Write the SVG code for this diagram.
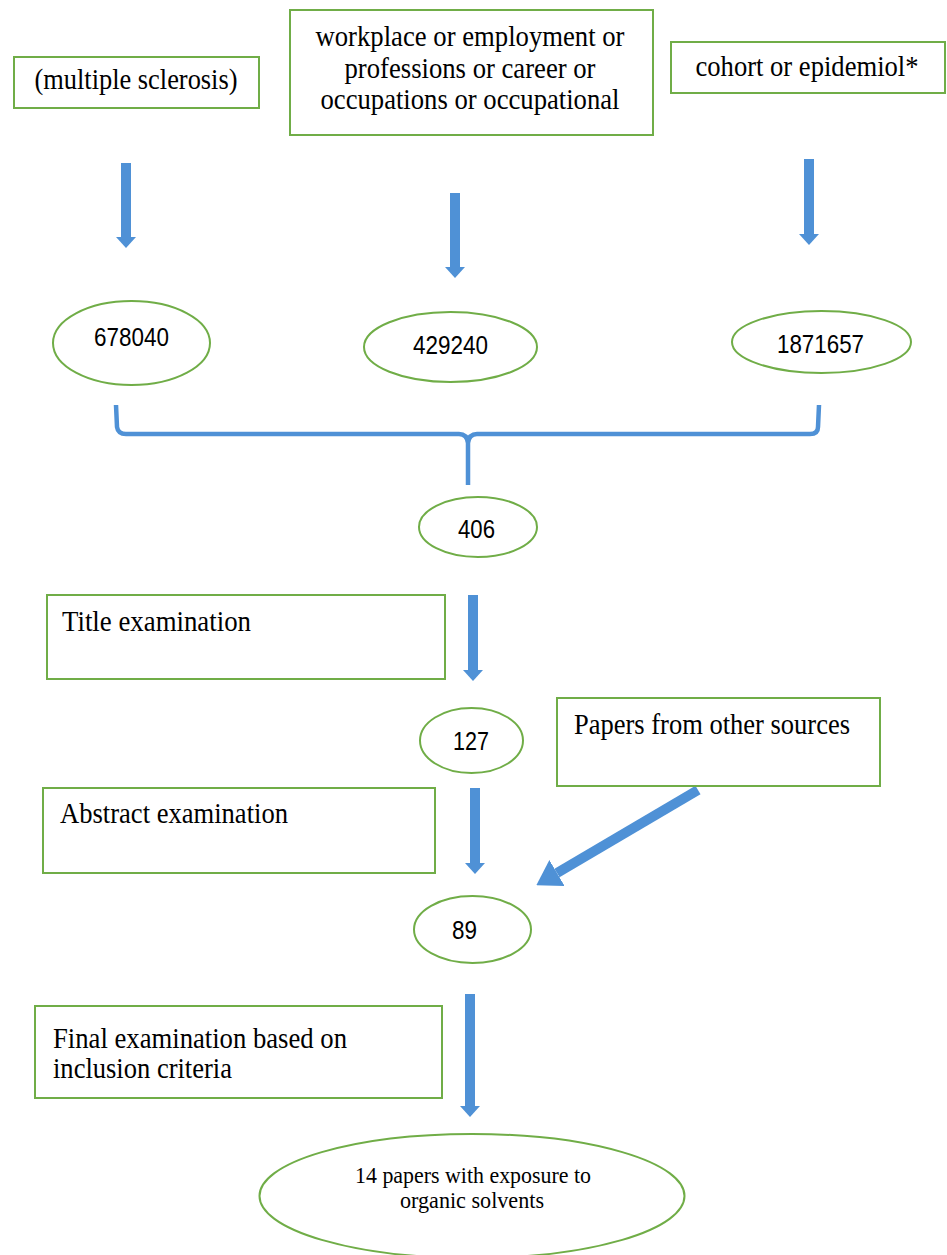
<svg xmlns="http://www.w3.org/2000/svg" width="947" height="1255" viewBox="0 0 947 1255">
<style>
  .box { fill: #ffffff; stroke: #70ad47; stroke-width: 2; }
  .ell { fill: #ffffff; stroke: #70ad47; stroke-width: 2; }
  .lbl { font-family: "Liberation Serif", "Times New Roman", serif; font-size: 29px; fill: #000000; }
  .lbl2 { font-family: "Liberation Serif", "Times New Roman", serif; font-size: 24px; fill: #000000; }
  .num { font-family: "Liberation Sans", Arial, sans-serif; font-size: 25px; fill: #000000; }
  .arr { stroke: #4f91d6; stroke-width: 10; fill: none; }
  .brace { stroke: #4f91d6; stroke-width: 4.5; fill: none; stroke-linejoin: round; }
</style>
<defs>
  <marker id="headDown" viewBox="0 0 11 20" refX="0" refY="10" markerWidth="11" markerHeight="20" orient="auto" markerUnits="userSpaceOnUse">
    <path d="M0,0 L11,10 L0,20 Z" fill="#4f91d6"/>
  </marker>
  <marker id="headDiag" viewBox="0 0 24 30" refX="0" refY="15" markerWidth="24" markerHeight="30" orient="auto" markerUnits="userSpaceOnUse">
    <path d="M0,0 L24,15 L0,30 Z" fill="#4f91d6"/>
  </marker>
</defs>

<g id="connectors">
  <line class="arr" x1="126" y1="163" x2="126" y2="237" marker-end="url(#headDown)"/>
  <line class="arr" x1="455" y1="193" x2="455" y2="267" marker-end="url(#headDown)"/>
  <line class="arr" x1="809" y1="159" x2="809" y2="234" marker-end="url(#headDown)"/>
  <path class="brace" d="M116,405 L117,427 Q118,434 126,434 L459,434 Q467,434 468,443 L468,485 M468,443 Q469,434 477,434 L810,434 Q818,434 818,427 L819,405"/>
  <line class="arr" x1="473" y1="595" x2="473" y2="670" marker-end="url(#headDown)"/>
  <line class="arr" x1="475" y1="788" x2="475" y2="863" marker-end="url(#headDown)"/>
  <line class="arr" x1="698" y1="790" x2="557" y2="873" marker-end="url(#headDiag)"/>
  <line class="arr" x1="470" y1="994" x2="470" y2="1106" marker-end="url(#headDown)"/>
</g>

<g id="node-ms">
  <rect class="box" x="14" y="57" width="245" height="51"/>
  <text class="lbl" x="136" y="89" text-anchor="middle" textLength="203" lengthAdjust="spacingAndGlyphs">(multiple sclerosis)</text>
</g>
<g id="node-workplace">
  <rect class="box" x="290" y="10" width="363" height="125"/>
  <text class="lbl" x="470" y="46" text-anchor="middle" textLength="309" lengthAdjust="spacingAndGlyphs">workplace or employment or</text>
  <text class="lbl" x="470" y="78" text-anchor="middle" textLength="251" lengthAdjust="spacingAndGlyphs">professions or career or</text>
  <text class="lbl" x="470" y="109" text-anchor="middle" textLength="299" lengthAdjust="spacingAndGlyphs">occupations or occupational</text>
</g>
<g id="node-cohort">
  <rect class="box" x="671" y="42" width="274" height="51"/>
  <text class="lbl" x="807" y="76" text-anchor="middle" textLength="223" lengthAdjust="spacingAndGlyphs">cohort or epidemiol*</text>
</g>

<g id="node-678040">
  <ellipse class="ell" cx="131.5" cy="343" rx="78.5" ry="42"/>
  <text class="num" x="131.5" y="346" text-anchor="middle" textLength="75" lengthAdjust="spacingAndGlyphs">678040</text>
</g>
<g id="node-429240">
  <ellipse class="ell" cx="450.5" cy="347" rx="86.5" ry="35"/>
  <text class="num" x="450.5" y="354" text-anchor="middle" textLength="75" lengthAdjust="spacingAndGlyphs">429240</text>
</g>
<g id="node-1871657">
  <ellipse class="ell" cx="821.5" cy="342" rx="89.5" ry="31"/>
  <text class="num" x="820.5" y="353" text-anchor="middle" textLength="87" lengthAdjust="spacingAndGlyphs">1871657</text>
</g>

<g id="node-406">
  <ellipse class="ell" cx="478" cy="527" rx="59" ry="30"/>
  <text class="num" x="476.5" y="538" text-anchor="middle" textLength="37" lengthAdjust="spacingAndGlyphs">406</text>
</g>

<g id="node-title">
  <rect class="box" x="47" y="595" width="398" height="84"/>
  <text class="lbl" x="62" y="631" textLength="189" lengthAdjust="spacingAndGlyphs">Title examination</text>
</g>

<g id="node-127">
  <ellipse class="ell" cx="471.5" cy="740.5" rx="51.5" ry="32.5"/>
  <text class="num" x="471" y="750" text-anchor="middle" textLength="36" lengthAdjust="spacingAndGlyphs">127</text>
</g>

<g id="node-other">
  <rect class="box" x="557" y="698" width="323" height="88"/>
  <text class="lbl" x="574" y="734" textLength="276" lengthAdjust="spacingAndGlyphs">Papers from other sources</text>
</g>

<g id="node-abstract">
  <rect class="box" x="43" y="788" width="392" height="85"/>
  <text class="lbl" x="60" y="823" textLength="228" lengthAdjust="spacingAndGlyphs">Abstract examination</text>
</g>

<g id="node-89">
  <ellipse class="ell" cx="472.5" cy="929.5" rx="58.5" ry="33.5"/>
  <text class="num" x="464.5" y="939" text-anchor="middle" textLength="25" lengthAdjust="spacingAndGlyphs">89</text>
</g>

<g id="node-final">
  <rect class="box" x="35" y="1006" width="407" height="92"/>
  <text class="lbl" x="53" y="1048" textLength="294" lengthAdjust="spacingAndGlyphs">Final examination based on</text>
  <text class="lbl" x="53" y="1078" textLength="179" lengthAdjust="spacingAndGlyphs">inclusion criteria</text>
</g>

<g id="node-result">
  <ellipse class="ell" cx="472" cy="1196" rx="212.5" ry="62"/>
  <text class="lbl2" x="473" y="1183" text-anchor="middle" textLength="236" lengthAdjust="spacingAndGlyphs">14 papers with exposure to</text>
  <text class="lbl2" x="472" y="1208" text-anchor="middle" textLength="144" lengthAdjust="spacingAndGlyphs">organic solvents</text>
</g>
</svg>
